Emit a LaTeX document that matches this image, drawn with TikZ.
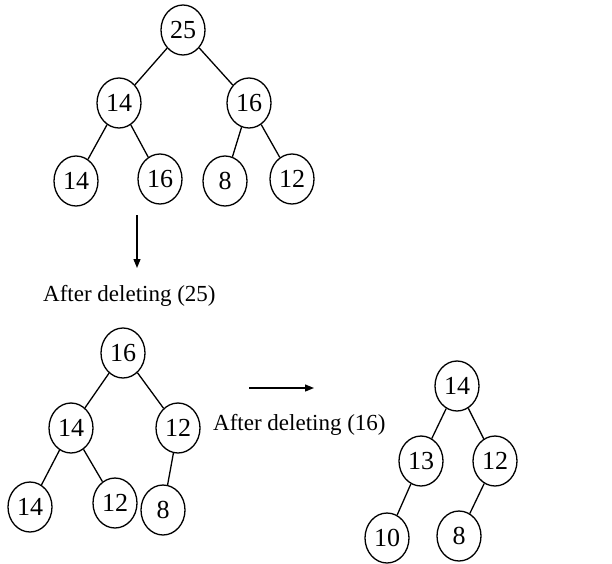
\documentclass[tikz,border=0pt]{standalone}
\usepackage{fontspec}
\setmainfont{Liberation Serif}
\usetikzlibrary{shapes.geometric,arrows.meta}

\tikzset{
  heapnode/.style={draw,ellipse,line width=1.3pt,minimum width=44pt,
        minimum height=50pt,inner sep=0pt,font=\fontsize{26}{28}\selectfont},
  heapedge/.style={line width=1.3pt},
  steparrow/.style={line width=1.3pt,-{Triangle[length=9pt,width=7pt]}},
  caption/.style={font=\fontsize{23}{26}\selectfont,inner sep=0pt}
}

\begin{document}
\begin{tikzpicture}[x=1pt,y=-1pt]
      \useasboundingbox (0,0) rectangle (612,563);

      \node[heapnode] (a) at (183,30) {25};
      \node[heapnode] (al) at (119,103) {14};
      \node[heapnode] (ar) at (249,103) {16};
      \node[heapnode] (all) at (76,181) {14};
      \node[heapnode] (alr) at (160,179) {16};
      \node[heapnode] (arl) at (225,181) {8};
      \node[heapnode] (arr) at (292,179) {12};
      \draw[heapedge] (a) -- (al);
      \draw[heapedge] (a) -- (ar);
      \draw[heapedge] (al) -- (all);
      \draw[heapedge] (al) -- (alr);
      \draw[heapedge] (ar) -- (arl);
      \draw[heapedge] (ar) -- (arr);

      \coordinate (downfrom) at (137,215);
      \coordinate (downto) at (137,268);
      \draw[steparrow] (downfrom) -- (downto);
      \node[caption,anchor=west] (del25) at (43,296) {After deleting (25)};

      \node[heapnode] (b) at (123,353) {16};
      \node[heapnode] (bl) at (71,428) {14};
      \node[heapnode] (br) at (178,428) {12};
      \node[heapnode] (bll) at (30,507) {14};
      \node[heapnode] (blr) at (115,503) {12};
      \node[heapnode] (brl) at (163,510) {8};
      \draw[heapedge] (b) -- (bl);
      \draw[heapedge] (b) -- (br);
      \draw[heapedge] (bl) -- (bll);
      \draw[heapedge] (bl) -- (blr);
      \draw[heapedge] (br) -- (brl);

      \coordinate (rightfrom) at (249,388);
      \coordinate (rightto) at (314,388);
      \draw[steparrow] (rightfrom) -- (rightto);
      \node[caption,anchor=west] (del16) at (213,425) {After deleting (16)};

      \node[heapnode] (c) at (457,386) {14};
      \node[heapnode] (cl) at (421,461) {13};
      \node[heapnode] (cr) at (495,461) {12};
      \node[heapnode] (cll) at (387,538) {10};
      \node[heapnode] (crl) at (459,536) {8};
      \draw[heapedge] (c) -- (cl);
      \draw[heapedge] (c) -- (cr);
      \draw[heapedge] (cl) -- (cll);
      \draw[heapedge] (cr) -- (crl);
\end{tikzpicture}
\end{document}
